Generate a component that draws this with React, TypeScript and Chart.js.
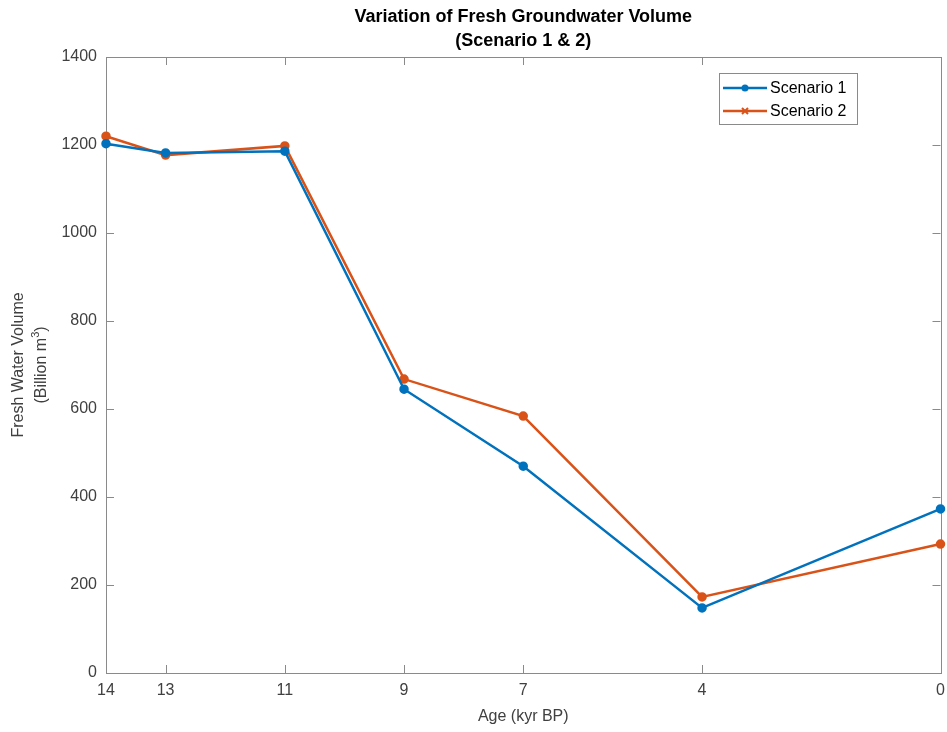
import React, { useEffect, useRef } from "react";
import { Chart, registerables } from "chart.js";

Chart.register(...registerables);

// Age in thousands of years before present
const ages = [14, 13, 11, 9, 7, 4, 0];
const xTickValues = [14, 13, 11, 9, 7, 4, 0];
const yTickValues = [0, 200, 400, 600, 800, 1000, 1200, 1400];

// Fresh groundwater volume, billion m^3
const scenario1 = [1203, 1182, 1186, 645, 470, 148, 373];
const scenario2 = [1220, 1177, 1198, 668, 584, 173, 293];

const titleLines = ["Variation of Fresh Groundwater Volume", "(Scenario 1 & 2)"];
const xTitle = "Age (kyr BP)";
const yTitleLine1 = "Fresh Water Volume";
const seriesNames = ["Scenario 1", "Scenario 2"];

const BLUE = "#0072BD";
const ORANGE = "#D95319";
const AXIS = "#8a8a8a";
const TEXT = "#404040";
const FONT = "'Liberation Sans', Arial, sans-serif";

const framePlugin = {
  id: "matlabFrame",
  beforeDatasetsDraw(chart: any) {
    const { ctx, chartArea } = chart;
    const { left, right, top, bottom } = chartArea;
    const xs = chart.scales.x;
    const ys = chart.scales.y;
    ctx.save();
    ctx.strokeStyle = AXIS;
    ctx.lineWidth = 1;
    ctx.strokeRect(Math.round(left) + 0.5, Math.round(top) + 0.5, Math.round(right - left), Math.round(bottom - top));
    const tl = 8;
    ctx.beginPath();
    for (const v of xTickValues) {
      const px = Math.round(xs.getPixelForValue(v)) + 0.5;
      ctx.moveTo(px, bottom);
      ctx.lineTo(px, bottom - tl);
      ctx.moveTo(px, top);
      ctx.lineTo(px, top + tl);
    }
    for (const v of yTickValues) {
      const py = Math.round(ys.getPixelForValue(v)) + 0.5;
      ctx.moveTo(left, py);
      ctx.lineTo(left + tl, py);
      ctx.moveTo(right, py);
      ctx.lineTo(right - tl, py);
    }
    ctx.stroke();
    ctx.restore();
  },
  afterDraw(chart: any) {
    const { ctx, chartArea } = chart;
    const cx = (chartArea.left + chartArea.right) / 2;
    const cy = (chartArea.top + chartArea.bottom) / 2;
    ctx.save();
    // Title
    ctx.fillStyle = "#000";
    ctx.textAlign = "center";
    ctx.textBaseline = "middle";
    ctx.font = `bold 18px ${FONT}`;
    ctx.fillText(titleLines[0], cx, 17);
    ctx.fillText(titleLines[1], cx, 41);

    // X axis title
    ctx.fillStyle = TEXT;
    ctx.font = `16px ${FONT}`;
    ctx.fillText(xTitle, cx, 717);

    // Y axis title (two lines, rotated)
    ctx.save();
    ctx.translate(19, cy);
    ctx.rotate(-Math.PI / 2);
    ctx.fillText(yTitleLine1, 0, 0);
    ctx.restore();

    ctx.save();
    ctx.translate(42, cy);
    ctx.rotate(-Math.PI / 2);
    const a = "(Billion m";
    const sup = "3";
    const b = ")";
    ctx.font = `16px ${FONT}`;
    const wa = ctx.measureText(a).width;
    const wb = ctx.measureText(b).width;
    ctx.font = `11px ${FONT}`;
    const ws = ctx.measureText(sup).width;
    const total = wa + ws + wb;
    const x0 = -total / 2;
    ctx.textAlign = "left";
    ctx.font = `16px ${FONT}`;
    ctx.fillText(a, x0, 0);
    ctx.font = `11px ${FONT}`;
    ctx.fillText(sup, x0 + wa, -6);
    ctx.font = `16px ${FONT}`;
    ctx.fillText(b, x0 + wa + ws, 0);
    ctx.restore();

    // Legend
    const bx = 719, by = 73, bw = 138, bh = 51;
    ctx.fillStyle = "#fff";
    ctx.fillRect(bx, by, bw, bh);
    ctx.strokeStyle = AXIS;
    ctx.lineWidth = 1;
    ctx.strokeRect(bx + 0.5, by + 0.5, bw, bh);
    const rows = [
      { name: seriesNames[0], color: BLUE, y: 88, marker: "circle" },
      { name: seriesNames[1], color: ORANGE, y: 111, marker: "cross" },
    ];
    for (const r of rows) {
      ctx.strokeStyle = r.color;
      ctx.lineWidth = 2.5;
      ctx.beginPath();
      ctx.moveTo(723, r.y);
      ctx.lineTo(767, r.y);
      ctx.stroke();
      if (r.marker === "circle") {
        ctx.fillStyle = r.color;
        ctx.beginPath();
        ctx.arc(745, r.y, 3.5, 0, Math.PI * 2);
        ctx.fill();
      } else {
        ctx.lineWidth = 2;
        ctx.beginPath();
        ctx.moveTo(742, r.y - 3);
        ctx.lineTo(748, r.y + 3);
        ctx.moveTo(742, r.y + 3);
        ctx.lineTo(748, r.y - 3);
        ctx.stroke();
      }
      ctx.fillStyle = "#000";
      ctx.textAlign = "left";
      ctx.textBaseline = "middle";
      ctx.font = `16px ${FONT}`;
      ctx.fillText(r.name, 770, r.y + 1);
    }
    ctx.restore();
  },
};

export default function App() {
  const ref = useRef<HTMLCanvasElement | null>(null);

  useEffect(() => {
    if (!ref.current) return;
    const chart = new Chart(ref.current, {
      type: "line",
      data: {
        labels: ages,
        datasets: [
          {
            label: seriesNames[0],
            data: ages.map((a, i) => ({ x: a, y: scenario1[i] })),
            borderColor: BLUE,
            backgroundColor: BLUE,
            borderWidth: 2.5,
            pointRadius: 3.5,
            pointStyle: "circle",
            tension: 0,
            clip: false as any,
          },
          {
            label: seriesNames[1],
            data: ages.map((a, i) => ({ x: a, y: scenario2[i] })),
            borderColor: ORANGE,
            backgroundColor: ORANGE,
            borderWidth: 2.5,
            pointRadius: 3.5,
            pointStyle: "circle",
            tension: 0,
            clip: false as any,
          },
        ],
      },
      options: {
        animation: false,
        responsive: false,
        maintainAspectRatio: false,
        layout: { padding: { left: 0, top: 57, right: 4, bottom: 0 } },
        plugins: {
          legend: { display: false },
          title: { display: false },
          tooltip: { enabled: false },
        },
        scales: {
          x: {
            type: "linear",
            reverse: true,
            min: 0,
            max: 14,
            afterBuildTicks(scale: any) {
              scale.ticks = xTickValues.map((v) => ({ value: v }));
            },
            afterFit(scale: any) {
              scale.height = 59;
              scale.paddingLeft = 0;
              scale.paddingRight = 0;
            },
            grid: { display: false, drawTicks: false },
            border: { display: false },
            ticks: {
              color: TEXT,
              font: { size: 16, family: FONT },
              padding: 8,
              maxRotation: 0,
              autoSkip: false,
              callback: (v: any) => String(v),
            },
          },
          y: {
            type: "linear",
            min: 0,
            max: 1400,
            afterBuildTicks(scale: any) {
              scale.ticks = yTickValues.map((v) => ({ value: v }));
            },
            afterFit(scale: any) {
              scale.width = 106;
              scale.paddingTop = 0;
              scale.paddingBottom = 0;
            },
            grid: { display: false, drawTicks: false },
            border: { display: false },
            ticks: {
              color: TEXT,
              font: { size: 16, family: FONT },
              padding: 9,
              callback: (v: any) => String(v),
            },
          },
        },
      },
      plugins: [framePlugin],
    });
    return () => chart.destroy();
  }, []);

  return (
    <div style={{ position: "absolute", left: 0, top: 0, width: 947, height: 732, background: "#fff" }}>
      <canvas ref={ref} width={947} height={732} style={{ width: 947, height: 732 }} />
    </div>
  );
}
